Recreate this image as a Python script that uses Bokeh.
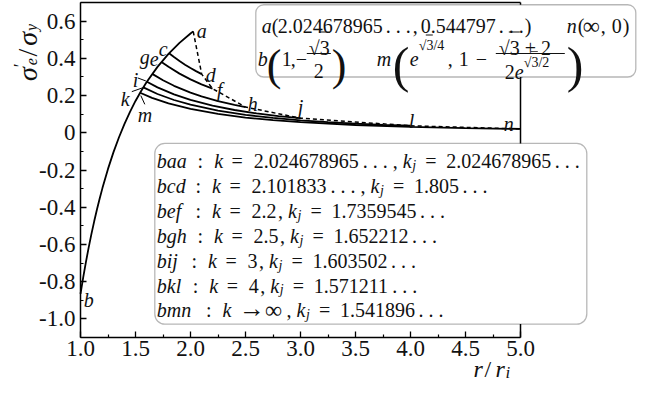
import math
from bokeh.plotting import figure
from bokeh.models import (Label, BoxAnnotation, FixedTicker,
                          CustomJSTickFormatter, Range1d)
from bokeh.embed import file_html
from bokeh.resources import INLINE

# ---------------- data ----------------
env_r = [1.0, 1.025, 1.05, 1.075, 1.1, 1.125, 1.15, 1.175, 1.2, 1.25, 1.3, 1.35,
         1.4, 1.45, 1.5, 1.55, 1.6, 1.7, 1.8, 1.9, 2.0, 2.0247]
env_s = [-0.866, -0.776, -0.6925, -0.6147, -0.542, -0.4744, -0.411, -0.3516, -0.296,
         -0.194, -0.104, -0.024, 0.048, 0.1125, 0.171, 0.223, 0.271, 0.354, 0.424,
         0.483, 0.5335, 0.5448]

cd_r = [1.805, 1.85, 1.9, 1.95, 2.0, 2.05, 2.1018]
cd_s = [0.4273, 0.4067, 0.3856, 0.3661, 0.348, 0.3312, 0.3151]
ef_r = [1.736, 1.8, 1.9, 2.0, 2.1, 2.2]
ef_s = [0.3808, 0.3542, 0.3179, 0.2869, 0.2602, 0.2371]
gh_r = [1.652, 1.75, 1.85, 2.0, 2.1, 2.25, 2.4, 2.5]
gh_s = [0.3164, 0.2820, 0.2524, 0.2159, 0.1959, 0.1706, 0.1500, 0.1382]
ij_r = [1.6035, 1.7, 1.85, 2.0, 2.2, 2.4, 2.6, 2.8, 3.0]
ij_s = [0.2743, 0.2440, 0.2060, 0.1763, 0.1457, 0.1224, 0.1043, 0.0899, 0.0784]
kl_r = [1.5712, 1.7, 1.85, 2.0, 2.25, 2.5, 2.75, 3.0, 3.25, 3.5, 3.75, 4.0]
kl_s = [0.2441, 0.2085, 0.1761, 0.1507, 0.1190, 0.0964, 0.0797, 0.0670, 0.0571,
        0.0492, 0.0429, 0.0377]
mn_r = [1.5419, 1.65, 1.8, 2.0, 2.25, 2.5, 2.75, 3.0, 3.5, 4.0, 4.5, 5.0]
mn_s = [0.2151, 0.1878, 0.1578, 0.1279, 0.1010, 0.0818, 0.0676, 0.0568, 0.0417,
        0.0320, 0.0253, 0.0205]
locus_r = [2.0247, 2.1018, 2.2, 2.5, 3.0, 4.0, 5.0]
locus_s = [0.5448, 0.3151, 0.2371, 0.1382, 0.0784, 0.0377, 0.0205]

x_ticks = [1.0, 1.5, 2.0, 2.5, 3.0, 3.5, 4.0, 4.5, 5.0]
x_minor = [1.25, 1.75, 2.25, 2.75, 3.25, 3.75, 4.25, 4.75]
y_ticks = [-1.0, -0.8, -0.6, -0.4, -0.2, 0.0, 0.2, 0.4, 0.6]
y_minor = [-1.1, -0.9, -0.7, -0.5, -0.3, -0.1, 0.1, 0.3, 0.5, 0.7]
X_MIN, X_MAX, Y_MIN, Y_MAX = 1.0, 5.0, -1.1, 0.7

leg_names = ["baa", "bcd", "bef", "bgh", "bij", "bkl", "bmn"]
leg_rel = ["=", "=", "=", "=", "=", "=", "\u2192"]
leg_k = ["2.024678965", "2.101833", "2.2", "2.5", "3", "4", "\u221e"]
leg_k_dots = [True, True, False, False, False, False, False]
leg_kj = ["2.024678965", "1.805", "1.7359545", "1.652212", "1.603502", "1.571211", "1.541896"]

FONT = "Liberation Serif"
INK = "#111111"

# canvas geometry: data area = canvas x 80..520, y 2..337
PX_X = 110.0
PX_Y = 335.0 / 1.8
W, H = 638, 382
x0_ = X_MIN - 80 / PX_X
x1_ = X_MIN + (W - 80) / PX_X
y1_ = Y_MAX + 2 / PX_Y
y0_ = Y_MAX - (H - 2) / PX_Y

p = figure(width=W, height=H, x_range=Range1d(x0_, x1_), y_range=Range1d(y0_, y1_),
           output_backend="svg", toolbar_location=None, min_border=0, title=None)
p.background_fill_color = "white"
p.border_fill_color = "white"
p.grid.visible = False
p.outline_line_color = None

xa, ya = p.xaxis[0], p.yaxis[0]
xa.fixed_location = Y_MIN
xa.bounds = (X_MIN, X_MAX)
ya.fixed_location = X_MIN
ya.bounds = (Y_MIN, Y_MAX)
for ax in (xa, ya):
    ax.axis_line_width = 1.5
    ax.major_tick_in = 6
    ax.major_tick_out = 0
    ax.minor_tick_in = 3
    ax.minor_tick_out = 0
    ax.major_tick_line_width = 1.3
    ax.minor_tick_line_width = 1.2
    ax.major_label_text_font = FONT
    ax.major_label_text_font_size = "23px"
    ax.major_label_text_color = INK

xa.ticker = FixedTicker(ticks=x_ticks, minor_ticks=x_minor)
ya.ticker = FixedTicker(ticks=y_ticks, minor_ticks=y_minor)
xa.formatter = CustomJSTickFormatter(code="return tick.toFixed(1);")
ya.formatter = CustomJSTickFormatter(
    code="return Math.abs(tick) < 1e-9 ? '0' : tick.toFixed(1);")
xa.major_label_standoff = 3
ya.major_label_standoff = 5

# top and right edges of the frame
p.segment(x0=[X_MIN, X_MAX], y0=[Y_MAX, Y_MIN], x1=[X_MAX, X_MAX], y1=[Y_MAX, Y_MAX],
          line_color="black", line_width=1.5)

# ---------------- curves ----------------
p.line(env_r, env_s, line_color="black", line_width=1.8)
for rr, ss in ((cd_r, cd_s), (ef_r, ef_s), (gh_r, gh_s), (ij_r, ij_s), (kl_r, kl_s), (mn_r, mn_s)):
    p.line(rr, ss, line_color="black", line_width=1.8)
p.line(locus_r, locus_s, line_color="black", line_width=1.5, line_dash="4 3")


# ---------------- helpers: positions measured on the reference ----------------
def DX(px):
    return 1.0 + (px - 87.7) / 110.0


def DY(py):
    return 0.7 - (py - 2.7) / 190.6


def CX(px):
    return px - 7.7


def CY(py):
    return 2.0 + (py - 2.7) * 0.97668


def TC(cx, cy, s, size=20, italic=False, font=FONT, align="left", angle=0.0):
    p.add_layout(Label(x=cx, y=cy, x_units="canvas", y_units="canvas",
                       text=s, text_font=font,
                       text_font_size=f"{size}px",
                       text_font_style="italic" if italic else "normal",
                       text_align=align, text_baseline="alphabetic",
                       text_color=INK, angle=angle))


def T(px, py, s, size=20, italic=False, font=FONT, align="left", angle=0.0):
    TC(CX(px), CY(py), s, size, italic, font, align, angle)


def BOX(x0, x1, y0, y1, radius):
    p.add_layout(BoxAnnotation(left=CX(x0), right=CX(x1), top=CY(y0), bottom=CY(y1),
                               left_units="canvas", right_units="canvas",
                               top_units="canvas", bottom_units="canvas",
                               fill_color="white", fill_alpha=1.0, line_color=INK,
                               line_width=1.3, border_radius=radius))


def HL(x0, x1, py, w=1.0):
    c = CY(py)
    p.add_layout(BoxAnnotation(left=CX(x0), right=CX(x1), top=c - w / 2, bottom=c + w / 2,
                               left_units="canvas", right_units="canvas",
                               top_units="canvas", bottom_units="canvas",
                               fill_color=INK, fill_alpha=1.0, line_color=None))


# leader lines
p.segment(x0=[DX(145), DX(139), DX(148)], y0=[DY(80), DY(94), DY(98)],
          x1=[DX(153), DX(150), DX(152)], y1=[DY(83), DY(90), DY(107)],
          line_color="black", line_width=1.0)

# point labels
for ch, px, py in (("a", 204, 32), ("c", 166, 50), ("d", 213, 77), ("e", 157, 61),
                   ("f", 224, 92), ("g", 147, 58), ("h", 255, 107), ("i", 140, 82),
                   ("j", 305, 110), ("k", 128, 101), ("l", 416, 124), ("m", 145, 118),
                   ("n", 511, 127), ("b", 91, 307)):
    T(px, py, ch, 20, True)

# ---------------- top box ----------------
S = -9
BOX(272 + S, 652 + S, 5, 79, 8)
b1 = 27
for px, s, it, sz in ((278, "a", True, 20), (288, "(", False, 20), (294, "2.024678965", False, 20),
                      (402, ". . .", False, 20), (429, ",", False, 20), (437, "0.544797", False, 20),
                      (515, ". . .", False, 20), (541, ")", False, 20), (583, "n", True, 20),
                      (594, "(", False, 20), (599, "\u221e", False, 24), (617, ",", False, 20),
                      (628, "0", False, 20), (639, ")", False, 20)):
    T(px + S, b1, s, size=sz, italic=it)

b2 = 61
T(274 + S, b2, "b", italic=True)
T(283 + S, 67, "(", size=44)
T(298 + S, b2, "1")
T(307 + S, b2, ",")
T(312 + S, b2, "\u2212")
T(325 + S, 49, "\u221a3")
HL(335 + S, 346 + S, 33)
HL(323 + S, 347 + S, 55)
T(335 + S, 73, "2", align="center")
T(348 + S, 67, ")", size=44)
T(393 + S, b2, "m", italic=True)
T(409 + S, 67, "(", size=50)
T(426 + S, b2, "e", italic=True)
T(435 + S, 47, "\u221a3/4", size=14)
HL(442 + S, 449 + S, 36, 0.8)
T(464 + S, b2, ",")
T(475 + S, b2, "1")
T(492 + S, b2, "\u2212")
T(515 + S, 49, "\u221a3 + 2")
HL(525 + S, 536 + S, 33)
HL(512 + S, 581 + S, 55)
T(521 + S, 74, "2")
T(531 + S, 74, "e", italic=True)
T(540 + S, 64, "\u221a3/2", size=14)
HL(547 + S, 554 + S, 53, 0.8)
T(583 + S, 67, ")", size=50)

# ---------------- legend box ----------------
BOX(162, 594, 147, 332, 10)
cmmi = {"a": 0.529, "b": 0.429, "c": 0.433, "d": 0.520, "e": 0.466, "f": 0.490,
        "g": 0.477, "h": 0.576, "i": 0.345, "j": 0.412, "k": 0.521, "l": 0.298,
        "m": 0.878, "n": 0.600}


def numw(s, size=20):
    return sum(0.25 if c in ".," else (1.0 if c == "\u221e" else 0.5) for c in s) * size


for i in range(7):
    yb = 165 + 25.5 * i
    x = 164.0
    T(x, yb, leg_names[i], italic=True)
    x += sum(cmmi[c] for c in leg_names[i]) * 20 + 11
    T(x, yb, ":")
    x += 16.6
    T(x, yb, "k", italic=True)
    x += 17.4
    if leg_rel[i] == "=":
        T(x, yb, leg_rel[i])
        x += 22.1
    else:
        T(x - 1, yb - 2, leg_rel[i], size=26)
        x += 25
    if leg_k[i] == "\u221e":
        T(x, yb, leg_k[i], size=24)
    else:
        T(x, yb, leg_k[i])
    x += numw(leg_k[i])
    if leg_k_dots[i]:
        T(x + 4, yb, ". . .")
        x += 34
    else:
        x += 1.5
    T(x, yb, ",")
    x += 10
    T(x, yb, "k", italic=True)
    T(x + 9.5, yb + 4.5, "j", size=14, italic=True)
    x += 22.5
    T(x, yb, "=")
    x += 21
    T(x, yb, leg_kj[i])
    x += numw(leg_kj[i]) + 3.5
    T(x, yb, ". . .")

# ---------------- axis titles ----------------
A = math.pi / 2
T(35, 83, "\u03c3", 28, True, angle=A)
T(28, 69, "\u2032", 18, angle=A)
T(39, 67, "e", 16, True, angle=A)
T(35, 58, "/", 28, angle=A)
T(35, 47, "\u03c3", 28, True, angle=A)
T(39, 32, "y", 16, True, angle=A)

TC(473, 368, "r", 24, True)
TC(484, 368, "/", 24)
TC(495, 368, "r", 24, True)
TC(505, 372, "i", 17, True)

open("out.html", "w").write(file_html(p, INLINE))
